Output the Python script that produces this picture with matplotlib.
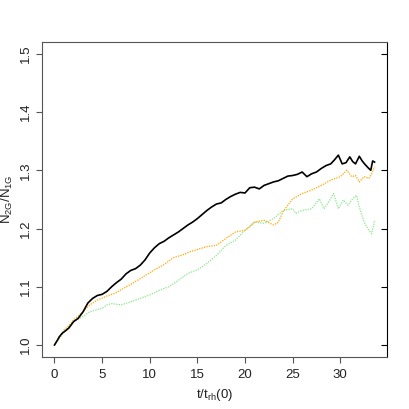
#!/usr/bin/env python3
"""Ratio of second- to first-generation stars versus time."""

import matplotlib
matplotlib.use("Agg")
import matplotlib.pyplot as plt

plt.rcParams["font.family"] = ["Liberation Sans", "DejaVu Sans"]
plt.rcParams["mathtext.fontset"] = "custom"
plt.rcParams["mathtext.rm"] = "Liberation Sans"

# black curve
t_black = [0.0, 0.3, 0.5, 0.8, 1.2, 1.5, 2.0, 2.5, 3.0, 3.5, 4.0, 4.5, 5.0, 5.5, 6.0, 6.5,
           7.0, 7.5, 8.0, 8.5, 9.0, 9.5, 10.0, 10.5, 11.0, 11.5, 12.0, 12.5, 13.0, 13.5,
           14.0, 14.5, 15.0, 15.5, 16.0, 16.5, 17.0, 17.5, 18.0, 18.5, 19.0, 19.5, 20.0,
           20.5, 21.0, 21.5, 22.0, 22.5, 23.0, 23.5, 24.0, 24.5, 25.0, 25.5, 26.0, 26.5,
           27.0, 27.5, 28.0, 28.5, 29.0, 29.4, 29.8, 30.2, 30.6, 31.0, 31.3, 31.6, 32.0,
           32.3, 32.6, 33.0, 33.2, 33.4, 33.6]
n_black = [1.000, 1.008, 1.014, 1.020, 1.025, 1.029, 1.040, 1.046, 1.057, 1.072, 1.080, 1.085,
           1.087, 1.092, 1.100, 1.107, 1.113, 1.122, 1.128, 1.131, 1.137, 1.146, 1.158, 1.167,
           1.174, 1.178, 1.184, 1.189, 1.194, 1.200, 1.206, 1.211, 1.217, 1.224, 1.231, 1.237,
           1.242, 1.244, 1.250, 1.255, 1.259, 1.262, 1.261, 1.270, 1.271, 1.268, 1.274, 1.277,
           1.280, 1.282, 1.286, 1.290, 1.291, 1.293, 1.297, 1.289, 1.294, 1.297, 1.303, 1.308,
           1.311, 1.318, 1.326, 1.311, 1.313, 1.323, 1.315, 1.311, 1.324, 1.316, 1.310, 1.303,
           1.300, 1.316, 1.314]

# orange curve
t_orange = [0.0, 0.5, 1.0, 1.5, 2.0, 2.5, 3.0, 3.7, 4.5, 5.5, 6.5, 7.2, 8.0, 9.0, 10.0, 10.7,
            11.5, 12.5, 13.5, 14.2, 15.0, 16.0, 17.0, 18.0, 19.0, 20.0, 20.5, 21.0, 22.0,
            23.0, 23.5, 24.0, 24.5, 25.0, 26.0, 27.0, 28.0, 29.0, 30.0, 30.7, 31.2, 31.6,
            32.0, 32.5, 33.0, 33.3, 33.6]
n_orange = [1.000, 1.012, 1.026, 1.033, 1.043, 1.050, 1.057, 1.069, 1.077, 1.084, 1.090, 1.097,
            1.104, 1.114, 1.124, 1.131, 1.138, 1.150, 1.155, 1.160, 1.164, 1.169, 1.171, 1.183,
            1.194, 1.197, 1.203, 1.211, 1.214, 1.206, 1.211, 1.229, 1.240, 1.251, 1.260, 1.266,
            1.274, 1.283, 1.289, 1.300, 1.289, 1.291, 1.280, 1.289, 1.286, 1.294, 1.306]

# green curve
t_green = [0.0, 0.5, 1.0, 2.0, 3.0, 3.7, 5.0, 5.5, 6.0, 7.0, 8.0, 9.0, 10.0, 11.0, 12.0, 13.0,
           14.0, 15.0, 16.0, 17.0, 18.0, 19.0, 20.0, 21.0, 22.0, 23.0, 24.0, 25.0, 25.3,
           26.0, 27.0, 27.8, 28.3, 28.8, 29.3, 29.8, 30.3, 30.8, 31.3, 31.7, 32.0, 32.5,
           33.0, 33.3, 33.6]
n_green = [1.000, 1.011, 1.022, 1.040, 1.049, 1.057, 1.063, 1.069, 1.071, 1.069, 1.074, 1.080,
           1.086, 1.094, 1.100, 1.111, 1.123, 1.129, 1.140, 1.154, 1.171, 1.180, 1.197, 1.211,
           1.209, 1.217, 1.231, 1.234, 1.226, 1.231, 1.234, 1.251, 1.234, 1.246, 1.260, 1.234,
           1.249, 1.240, 1.251, 1.257, 1.237, 1.211, 1.197, 1.191, 1.214]

x_ticks = [0, 5, 10, 15, 20, 25, 30]
y_ticks = [1.0, 1.1, 1.2, 1.3, 1.4, 1.5]
y_tick_labels = ["1.0", "1.1", "1.2", "1.3", "1.4", "1.5"]

BOX_COLOR = "#555555"
FONT_SIZE = 9.5


def main():
    fig = plt.figure(figsize=(4.09, 4.09), dpi=100)
    ax = fig.add_axes([0.102, 0.128, 0.845, 0.769])

    ax.plot(t_green, n_green, color="#88e888", linewidth=0.9, linestyle=(0, (1, 1)))
    ax.plot(t_orange, n_orange, color="#ffa500", linewidth=0.9, linestyle=(0, (1, 1)))
    ax.plot(t_black, n_black, color="black", linewidth=1.2)

    ax.set_xlim(-1.34, 34.94)
    ax.set_ylim(0.98, 1.52)
    ax.set_xticks(x_ticks)
    ax.set_yticks(y_ticks)
    ax.set_yticklabels(y_tick_labels, rotation=90, va="center")
    ax.tick_params(axis="both", direction="out", length=4, width=0.8, color=BOX_COLOR,
                   labelsize=FONT_SIZE, labelcolor="#222222")
    ax.tick_params(axis="x", pad=5)
    ax.tick_params(axis="y", pad=3)
    for side in ["left", "top", "bottom"]:
        ax.spines[side].set_color(BOX_COLOR)
        ax.spines[side].set_linewidth(0.8)
    ax.spines["right"].set_color("black")
    ax.spines["right"].set_linewidth(0.8)

    # inward ticks on the right side, no labels
    ax2 = ax.twinx()
    ax2.set_ylim(ax.get_ylim())
    ax2.set_yticks(y_ticks)
    ax2.tick_params(axis="y", direction="in", length=4, width=0.8, labelright=False)
    for side in ["left", "top", "bottom", "right"]:
        ax2.spines[side].set_visible(False)

    ax.set_xlabel(r"t/t$_{\mathrm{rh}}$(0)", fontsize=FONT_SIZE, color="#222222")
    ax.xaxis.set_label_coords(0.5, -0.098)
    ax.set_ylabel(r"N$_{\mathrm{2G}}$/N$_{\mathrm{1G}}$", fontsize=FONT_SIZE, color="#222222")
    ax.yaxis.set_label_coords(-0.076, 0.5)

    fig.savefig("out.png", dpi=100)
    plt.close(fig)


if __name__ == "__main__":
    main()
